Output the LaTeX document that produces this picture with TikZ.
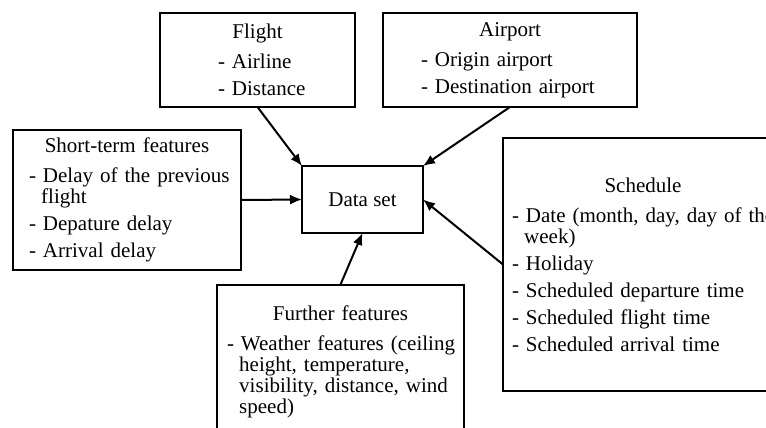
\documentclass[tikz,border=0pt]{standalone}
\usepackage{fontspec}
\setmainfont{Liberation Serif}
\usepackage{tikz}
\usetikzlibrary{arrows.meta}
% text setting inside the boxes
\newcommand*{\boxfont}{\fontsize{21}{21}\selectfont\parindent=0pt\relax\parskip=6pt\relax}
% one entry of a feature list, wrapped lines hang under the text
\newcommand*{\feat}[1]{\par\hangindent=0.583em\hangafter=1 - #1\par}
% centred heading of a feature box
\newcommand*{\boxhead}[1]{{\centering #1\par}\vspace{3pt}}
% start the entries, #1 from the left side of the box
\newcommand*{\featlist}[1]{\raggedright\leftskip=#1\relax}

\begin{document}
\begin{tikzpicture}[x=1pt,y=-1pt,
  box/.style={draw, line width=2pt, inner sep=0pt, outer sep=0pt, font=\boxfont},
  feed/.style={line width=2pt, -{Latex[length=12pt,width=10pt]}}]
\useasboundingbox (0,0) rectangle (766,428);
\clip (0,0) rectangle (766,428);
% The data set in the middle
\node[box, minimum width=121pt, minimum height=67pt] (data) at (362.5,199.5) {Data set};
% Feature groups round it, each a box with a heading and a list
\node[box, text width=195pt, minimum height=94pt] (flight) at (257.5,60) {%
  \boxhead{Flight}\featlist{58pt}\feat{Airline}\feat{Distance}};
\node[box, text width=254pt, minimum height=94pt] (airport) at (510,60) {%
  \boxhead{Airport}\featlist{38pt}\feat{Origin airport}\feat{Destination airport}};
\node[box, text width=228pt, minimum height=140pt] (short) at (127,200) {%
  \boxhead{Short-term features}\featlist{16pt}%
  \feat{Delay of the previous\newline flight}\feat{Depature delay}\feat{Arrival delay}};
\node[box, text width=247pt, minimum height=155pt] (further) at (340.5,362) {%
  \boxhead{Further features}\featlist{10pt}%
  \feat{Weather features (ceiling\newline height, temperature,\newline visibility, distance, wind\newline speed)}};
\node[box, text width=280pt, minimum height=253pt] (sched) at (643,264.5) {%
  \boxhead{Schedule}\featlist{9pt}%
  \feat{Date (month, day, day of the\newline week)}\feat{Holiday}%
  \feat{Scheduled departure time}\feat{Scheduled flight time}\feat{Scheduled arrival time}};
% Everything feeds into the data set
\draw[feed] (flight.south) -- (data.north west);
\draw[feed] (airport.south) -- (data.north east);
\draw[feed] (short.east) -- (data.west);
\draw[feed] (further.north) -- (data.south);
\draw[feed] (sched.west) -- (data.east);
\end{tikzpicture}
\end{document}
